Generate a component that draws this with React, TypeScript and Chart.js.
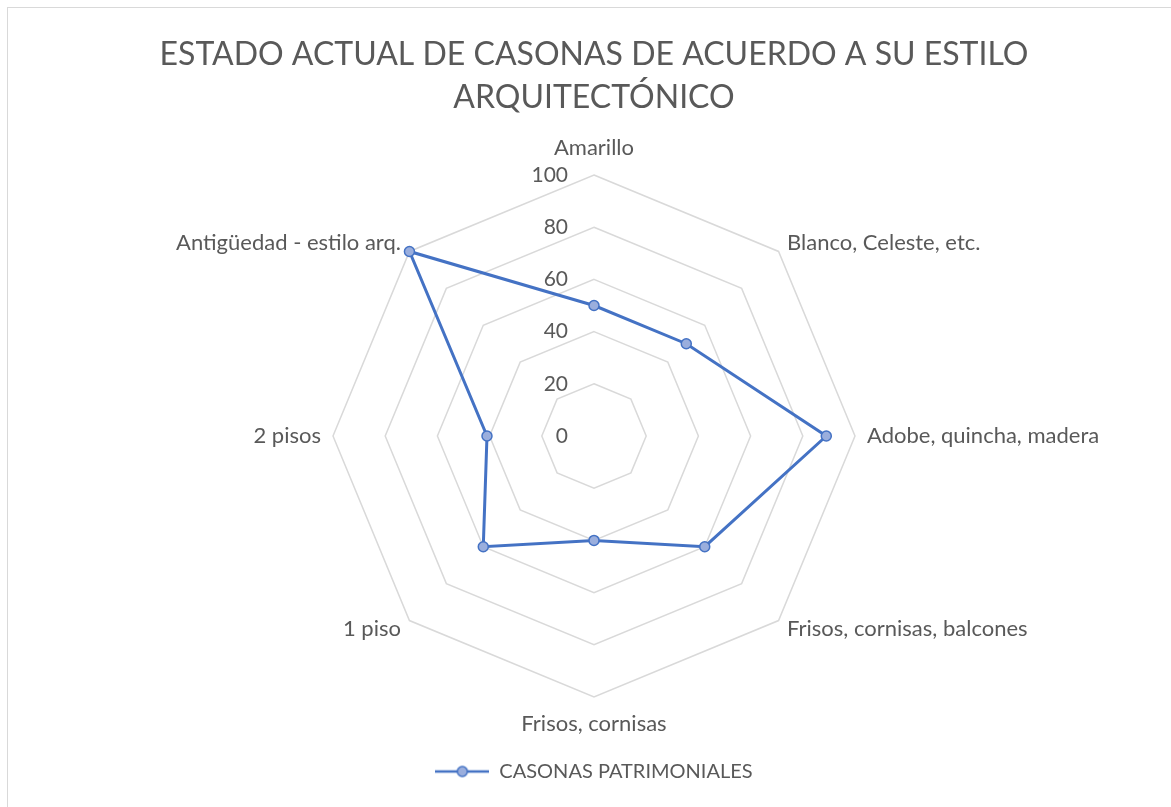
import React, { useEffect, useRef } from "react";
import { Chart, registerables } from "chart.js";

Chart.register(...registerables);

const TITLE_LINES = ["ESTADO ACTUAL DE CASONAS DE ACUERDO A SU ESTILO", "ARQUITECTÓNICO"];
const CATEGORIES = [
  "Amarillo",
  "Blanco, Celeste, etc.",
  "Adobe, quincha, madera",
  "Frisos, cornisas, balcones",
  "Frisos, cornisas",
  "1 piso",
  "2 pisos",
  "Antigüedad - estilo arq.",
];
const SERIES_NAME = "CASONAS PATRIMONIALES";
const SERIES_VALUES = [50, 50, 89, 60, 40, 60, 41, 100];
const TICK_VALUES = [0, 20, 40, 60, 80, 100];

const FONT = "Lato";
const TEXT = "#595959";
const LINE = "#4472C4";
const MARKER = "#9AAEDD";
const GRID = "#d9d9d9";

export default function App() {
  const ref = useRef<HTMLCanvasElement | null>(null);

  useEffect(() => {
    if (!ref.current) return;

    const legendIcon = document.createElement("canvas");
    legendIcon.width = 54;
    legendIcon.height = 14;
    const lc = legendIcon.getContext("2d")!;
    lc.strokeStyle = LINE;
    lc.lineWidth = 2.5;
    lc.beginPath();
    lc.moveTo(0, 7);
    lc.lineTo(54, 7);
    lc.stroke();
    lc.beginPath();
    lc.arc(27, 7, 5, 0, Math.PI * 2);
    lc.fillStyle = MARKER;
    lc.fill();
    lc.lineWidth = 1.5;
    lc.stroke();

    const labelPlugin = {
      id: "radarText",
      beforeDatasetsDraw(chart: any) {
        const scale = chart.scales.r;
        const ctx = chart.ctx;
        ctx.save();
        ctx.font = `21px ${FONT}`;
        ctx.fillStyle = TEXT;
        ctx.textAlign = "right";
        ctx.textBaseline = "middle";
        TICK_VALUES.forEach((v) => {
          const d = scale.getDistanceFromCenterForValue(v);
          ctx.fillText(String(v), scale.xCenter - 26, scale.yCenter - d);
        });
        ctx.restore();
      },
      afterDraw(chart: any) {
        const scale = chart.scales.r;
        const ctx = chart.ctx;
        ctx.save();
        ctx.font = `22px ${FONT}`;
        ctx.fillStyle = TEXT;
        ctx.textBaseline = "middle";
        CATEGORIES.forEach((label, i) => {
          const a = scale.getIndexAngle(i);
          const s = Math.sin(a);
          const vertical = Math.abs(s) < 0.1;
          const pos = scale.getPointPosition(i, scale.drawingArea + (vertical ? 27 : 12));
          ctx.textAlign = vertical ? "center" : s > 0 ? "left" : "right";
          ctx.fillText(label, pos.x, pos.y);
        });
        ctx.restore();
      },
    };

    const chart = new Chart(ref.current, {
      type: "radar",
      data: {
        labels: CATEGORIES,
        datasets: [
          {
            label: SERIES_NAME,
            data: SERIES_VALUES,
            borderColor: LINE,
            borderWidth: 3,
            backgroundColor: MARKER,
            fill: false,
            pointRadius: 5,
            pointBorderWidth: 1.5,
            pointBackgroundColor: MARKER,
            pointBorderColor: LINE,
            tension: 0,
          },
        ],
      },
      options: {
        responsive: false,
        animation: false,
        devicePixelRatio: 1,
        layout: { padding: { top: 0, left: 0, right: 0, bottom: 0.5 } },
        scales: {
          r: {
            min: 0,
            max: 100,
            ticks: { display: false, stepSize: 20 },
            grid: { color: GRID, lineWidth: 1.5 },
            angleLines: { display: false },
            pointLabels: { display: false },
          },
        },
        plugins: {
          title: {
            display: true,
            text: TITLE_LINES,
            color: TEXT,
            font: { family: FONT, size: 32, weight: "normal", lineHeight: 43 / 32 },
            padding: { top: 25.5, bottom: 55.5 },
          },
          legend: {
            display: true,
            position: "bottom",
            labels: {
              color: TEXT,
              font: { family: FONT, size: 20 },
              usePointStyle: true,
              pointStyle: legendIcon as any,
              pointStyleWidth: 54,
              boxHeight: 14,
              padding: 63,
            },
          },
          tooltip: { enabled: false },
        },
      },
      plugins: [labelPlugin],
    });
    return () => chart.destroy();
  }, []);

  return (
    <div
      style={{
        position: "absolute",
        left: 7,
        top: 7,
        width: 1172,
        height: 830,
        border: "1px solid #d9d9d9",
        background: "#fff",
      }}
    >
      <canvas ref={ref} width={1172} height={784} style={{ display: "block" }} />
    </div>
  );
}
